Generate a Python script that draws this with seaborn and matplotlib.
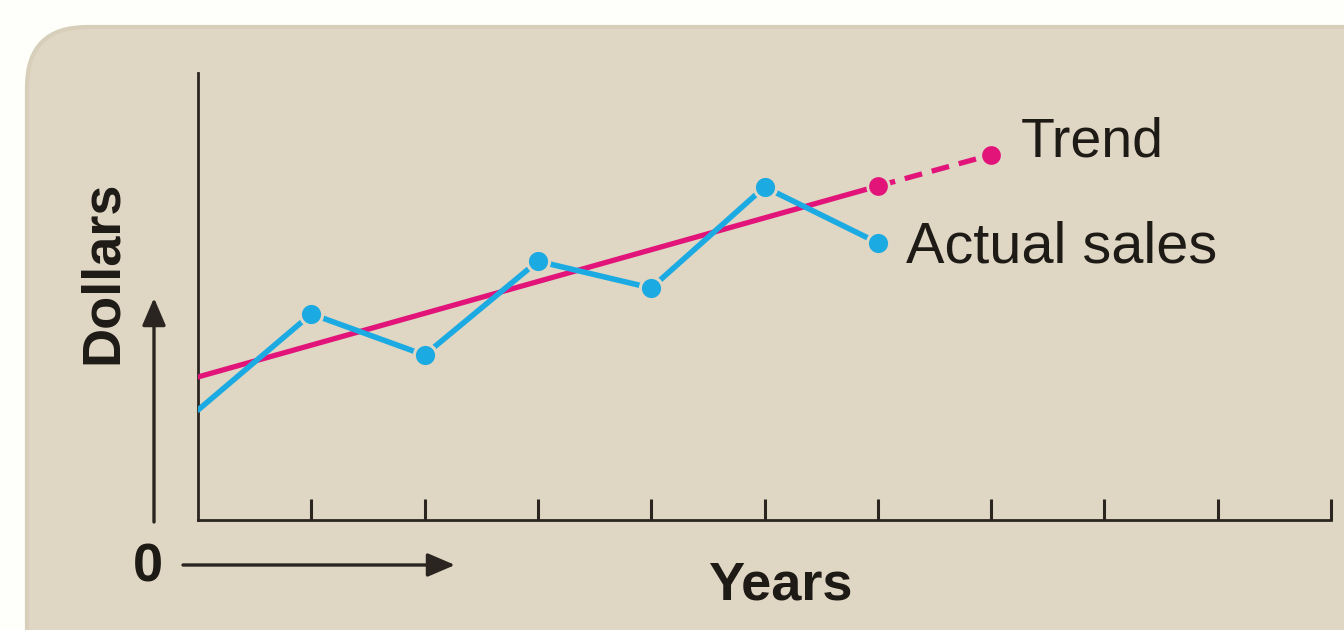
import matplotlib
matplotlib.use("Agg")
import matplotlib.pyplot as plt
from matplotlib.patches import FancyBboxPatch
import seaborn as sns
import pandas as pd

# Sales over time, in arbitrary dollar units
years = [0, 1, 2, 3, 4, 5, 6]
actual_sales = [24.6, 46.1, 36.9, 57.9, 51.9, 74.5, 62.0]
trend_years = [0, 6, 7]
trend_values = [32.0, 74.7, 81.7]
tick_years = [1, 2, 3, 4, 5, 6, 7, 8, 9, 10]

PANEL = "#DFD7C4"
INK = "#2A2520"
BLUE = "#1CAAE2"
PINK = "#E2147A"

sns.set_theme(style="white")
plt.rcParams["font.family"] = ["Liberation Sans", "DejaVu Sans"]

W, H, DPI = 1344, 630, 100
fig = plt.figure(figsize=(W / DPI, H / DPI), dpi=DPI, facecolor="#FEFEFB")

# Rounded beige panel behind the chart (display pixels)
panel = FancyBboxPatch((27, -60), 1400, 660 - 27 + 30,
                       boxstyle="round,pad=0,rounding_size=60",
                       transform=None, facecolor=PANEL,
                       edgecolor="#D8CFBA", linewidth=3, zorder=-10)
fig.patches.append(panel)

ax = fig.add_axes([198 / W, 1 - 520 / H, 1133 / W, 447 / H])
ax.set_zorder(1)
ax.set_facecolor("none")
ax.set_xlim(0, 10)
ax.set_ylim(0, 100)

for side in ("top", "right"):
    ax.spines[side].set_visible(False)
for side in ("left", "bottom"):
    ax.spines[side].set_color(INK)
    ax.spines[side].set_linewidth(2.0)

ax.set_xticks(tick_years)
ax.set_xticklabels([])
ax.set_yticks([])
ax.tick_params(axis="x", direction="in", length=15, width=2.2,
               color=INK, bottom=True)

df_actual = pd.DataFrame({"year": years, "sales": actual_sales})
df_trend = pd.DataFrame({"year": trend_years, "value": trend_values})

# Trend: solid over the observed years, dashed for the projection
sns.lineplot(data=df_trend.iloc[:2], x="year", y="value", ax=ax,
             color=PINK, linewidth=3.8, zorder=3)
sns.lineplot(data=df_trend.iloc[1:], x="year", y="value", ax=ax,
             color=PINK, linewidth=3.8, zorder=3)
ax.lines[-1].set_dashes([3.4, 1.9])
ax.plot(df_trend["year"].iloc[1:], df_trend["value"].iloc[1:],
        linestyle="none", marker="o", markersize=15.5,
        markerfacecolor=PINK, markeredgecolor=PANEL,
        markeredgewidth=2, zorder=5)

# Actual sales line with point markers for each full year
sns.lineplot(data=df_actual, x="year", y="sales", ax=ax,
             color=BLUE, linewidth=4.0, zorder=4)
ax.plot(df_actual["year"].iloc[1:], df_actual["sales"].iloc[1:],
        linestyle="none", marker="o", markersize=16,
        markerfacecolor=BLUE, markeredgecolor=PANEL,
        markeredgewidth=2.2, zorder=6)

ax.set_xlabel("")
ax.set_ylabel("")

# Series labels next to their last points
ax.annotate("Trend", xy=(trend_years[-1], trend_values[-1]),
            xytext=(30, -2), textcoords="offset pixels",
            fontsize=40, color="#1E1A16", va="baseline", ha="left")
ax.annotate("Actual sales", xy=(years[-1], actual_sales[-1]),
            xytext=(28, -20), textcoords="offset pixels",
            fontsize=41.5, color="#1E1A16", va="baseline", ha="left")

# Axis direction arrows and labels outside the plot area
arrow_kw = dict(arrowstyle="-|>,head_length=1.4,head_width=0.6",
                color=INK, linewidth=2.4, shrinkA=0, shrinkB=0)
ax.annotate("", xy=(154, 332), xytext=(154, 108),
            xycoords="figure pixels", textcoords="figure pixels",
            arrowprops=arrow_kw, annotation_clip=False)
ax.annotate("", xy=(455, 65), xytext=(183, 65),
            xycoords="figure pixels", textcoords="figure pixels",
            arrowprops=arrow_kw, annotation_clip=False)

fig.text(148 / W, 63 / H, "0", fontsize=39, fontweight="bold",
         color="#1E1A16", ha="center", va="center")
fig.text(780 / W, 45 / H, "Years", fontsize=39, fontweight="bold",
         color="#1E1A16", ha="center", va="center")
fig.text(103 / W, 358 / H, "Dollars", fontsize=39, fontweight="bold",
         color="#1E1A16", ha="center", va="center", rotation=90)

fig.savefig("out.png", dpi=DPI, facecolor=fig.get_facecolor())
